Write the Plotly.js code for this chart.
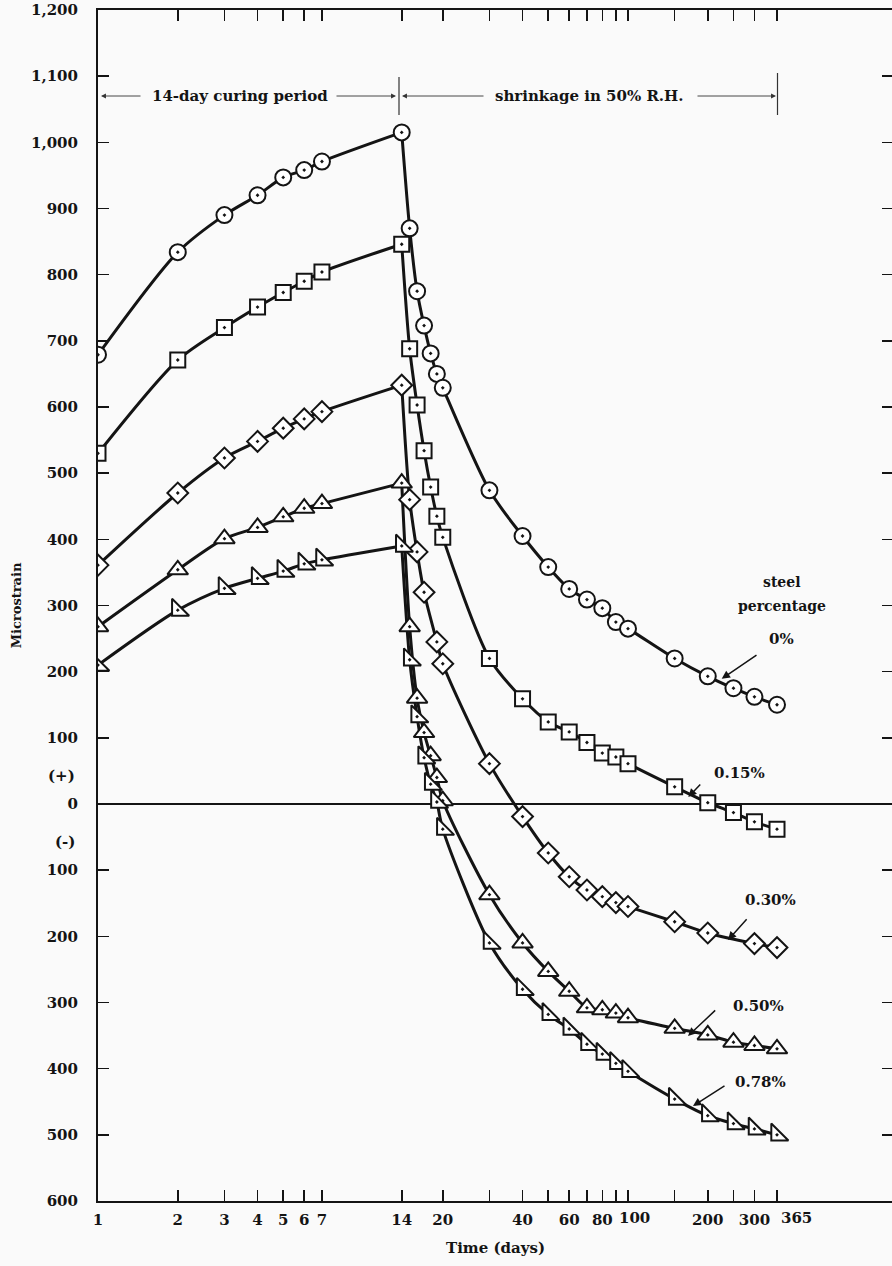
<!DOCTYPE html>
<html><head><meta charset="utf-8">
<script src="https://cdn.plot.ly/plotly-3.0.1.min.js"></script>
<style>html,body{margin:0;padding:0;overflow:hidden;background:#fafafa}</style>
</head><body><div id="chart" style="width:895px;height:1266px"></div>
<script>
// ---------------- data ----------------
const seriesNames = ['0%', '0.15%', '0.30%', '0.50%', '0.78%'];
const daysFull = [1,2,3,4,5,6,7,14,15,16,17,18,19,20,30,40,50,60,70,80,90,100,150,200,250,300,365];
const days030  = [1,2,3,4,5,6,7,14,15,16,17,19,20,30,40,50,60,70,80,90,100,150,200,300,365];
const strain000 = [679,834,890,920,947,958,971,1015, 870,775,723,681,650,629, 474,405,358,325,309,296,275,265, 220,193,175,162,150];
const strain015 = [530,671,720,751,773,790,804,846, 688,603,534,479,435,403, 220,159,124,109,93,77,71,61, 26,2,-13,-27,-38];
const strain030 = [361,470,523,548,568,582,593,633, 460,381,320,245,212, 61,-19,-74,-110,-130,-140,-149,-155, -178,-195,-211,-217];
const strain050 = [268,354,401,418,434,447,454,485, 268,160,108,73,40,5, -137,-210,-253,-283,-308,-311,-316,-323, -339,-349,-360,-365,-370];
const strain078 = [210,293,326,341,352,363,369,390, 218,132,70,30,3,-38, -210,-280,-318,-340,-363,-378,-392,-404, -446,-471,-483,-491,-500];
const curingEnd = 14;

const xTickVals  = [1,2,3,4,5,6,7,14,20,40,60,80,100,200,300,365];
const xTickText  = ['1','2','3','4','5','6','7','14','20','40','60','80','100','200','300','365'];
const xMinorVals = [30,50,70,90,150,250];
const yTickVals  = [1200,1100,1000,900,800,700,600,500,400,300,200,100,0,-100,-200,-300,-400,-500,-600];
const yTickText  = ['1,200','1,100','1,000','900','800','700','600','500','400','300','200','100','0','100','200','300','400','500','600'];
const signVals   = [50, -50];
const signText   = ['(+)', '(-)'];

// ---------------- styling ----------------
const FONT = 'DejaVu Serif, Liberation Serif, serif';
const INK = '#141414';
const symbols = ['circle-dot','square-dot','diamond-dot','triangle-up-dot','triangle-sw-dot'];
const sizes   = [16, 15, 16, 18, 19];
const seriesX = [daysFull, daysFull, days030, daysFull, daysFull];
const seriesY = [strain000, strain015, strain030, strain050, strain078];

const traces = [];
const lineStyle = {shape:'spline', smoothing:0.8, color:INK, width:3};
seriesY.forEach((ys, i) => {
  const xs = seriesX[i];
  const cut = xs.indexOf(curingEnd);
  traces.push({x: xs.slice(0, cut + 1), y: ys.slice(0, cut + 1), mode:'lines', line: lineStyle, hoverinfo:'skip', name: seriesNames[i]});
  traces.push({x: xs.slice(cut), y: ys.slice(cut), mode:'lines', line: lineStyle, hoverinfo:'skip', name: seriesNames[i]});
});
seriesY.forEach((ys, i) => {
  traces.push({x: seriesX[i], y: ys, mode:'markers', name: seriesNames[i],
    marker:{symbol: symbols[i], size: sizes[i], color:'#ffffff', line:{color: INK, width:2}}});
});

// pixel helpers for decorations
const PL = 98, PW = 795, PT = 10, PH = 1191;
const px = v => (v - PL) / PW;
const py = v => (PT + PH - v) / PH;

const annotations = [];
function label(text, x, y, size) {
  annotations.push({xref:'paper', yref:'paper', x: px(x), y: py(y), text: '<b>' + text + '</b>', showarrow:false,
    xanchor:'center', yanchor:'middle', font:{family: FONT, size: size, color: INK}});
}
function arrow(hx, hy, tx, ty, w, col) {
  annotations.push({xref:'paper', yref:'paper', x: px(hx), y: py(hy), ax: tx - hx, ay: ty - hy,
    axref:'pixel', ayref:'pixel', text:'', showarrow:true, arrowhead:2, arrowsize:1.1,
    arrowwidth: w, arrowcolor: col});
}
// period annotations
label('14-day curing period', 240, 96, 15);
label('shrinkage in 50% R.H.', 589, 96, 15);
arrow(101, 96, 142, 96, 0.9, '#333');
arrow(396, 96, 335, 96, 0.9, '#333');
arrow(402, 96, 485, 96, 0.9, '#333');
arrow(776, 96, 696, 96, 0.9, '#333');
// series labels
label('steel', 781.7, 582, 14);
label('percentage', 781.7, 606, 14);
const labelPos = [[781.7, 639.5], [739, 772.6], [770, 899.8], [758, 1006], [760, 1082]];
const arrowPos = [[721.7, 678.8, 758, 654], [688.3, 797, 701.7, 782.9], [728, 940, 748, 917.7], [688, 1036, 716.7, 1009], [693, 1106, 726, 1085]];
seriesNames.forEach((n, i) => {
  label(n, labelPos[i][0], labelPos[i][1], 15);
  const a = arrowPos[i];
  arrow(a[0], a[1], a[2], a[3], 1.5, INK);
});
// (+)/(-) sign labels on the y axis
signText.forEach((t, i) => {
  annotations.push({xref:'paper', yref:'y', x: px(77), y: signVals[i], yshift: -5, text: '<b>' + t + '</b>', showarrow:false,
    xanchor:'right', yanchor:'middle', font:{family: FONT, size:15, color: INK}});
});
// x tick labels that sit off their tick in the original (drawn as text next to the tick)
const shiftedLabels = {'100': 6, '365': 19};
xTickText.forEach((t, i) => {
  if (shiftedLabels[t] === undefined) return;
  annotations.push({xref:'x', yref:'paper', x: Math.log10(xTickVals[i]), y: py(1218), xshift: shiftedLabels[t],
    text: '<b>' + t + '</b>', showarrow:false, xanchor:'center', yanchor:'middle',
    font:{family: FONT, size:15, color: INK}});
});

const shapes = [
  {type:'line', xref:'paper', yref:'paper', x0: px(399), x1: px(399), y0: py(77), y1: py(115), line:{color:'#333', width:1.2}},
  {type:'line', xref:'paper', yref:'paper', x0: px(777.5), x1: px(777.5), y0: py(73), y1: py(115), line:{color:'#333', width:1.2}}
];

const tickCommon = {ticks:'inside', ticklen:11, tickwidth:1.6, tickcolor: INK, showline:true, linewidth:2, linecolor: INK,
  mirror:'ticks', showgrid:false};
const tickFont = {family: FONT, size:15, color: INK, weight:'bold'};

const layout = {
  width: 895, height: 1266,
  margin: {l: PL, r: 895 - PL - PW, t: PT, b: 1266 - PT - PH},
  paper_bgcolor:'#fafafa', plot_bgcolor:'#fafafa',
  showlegend:false,
  font:{family: FONT, size:15, color: INK},
  xaxis: Object.assign({}, tickCommon, {
    type:'log', range:[0, 3], tickmode:'array', tickvals: xTickVals, tickangle: 0,
    ticktext: xTickText.map(t => shiftedLabels[t] === undefined ? t : ''),
    zeroline:false, tickfont: tickFont, ticklabelstandoff: 4,
    minor:{tickmode:'array', tickvals: xMinorVals, ticks:'inside', ticklen:11, tickwidth:1.6, tickcolor: INK, showgrid:false},
    title:{text:'Time (days)', font:{family: FONT, size:15, color: INK, weight:'bold'}, standoff: 14}
  }),
  yaxis: Object.assign({}, tickCommon, {
    range:[-600, 1200], tickmode:'array', tickvals: yTickVals, ticktext: yTickText,
    zeroline:true, zerolinecolor: INK, zerolinewidth:1.6,
    tickfont: tickFont, ticklabelstandoff: 15,
    title:{text:'Microstrain', font:{family: FONT, size:13, color: INK, weight:'bold'}, standoff: 6}
  }),
  annotations: annotations,
  shapes: shapes
};

Plotly.newPlot('chart', traces, layout, {staticPlot:true, displayModeBar:false});
</script>
</body></html>
